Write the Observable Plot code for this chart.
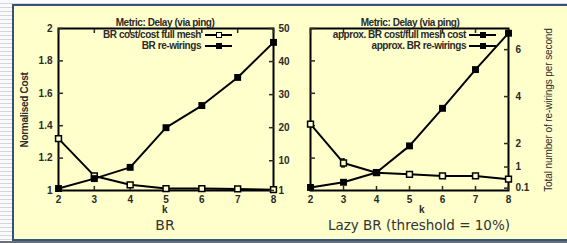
<!DOCTYPE html>
<html><head><meta charset="utf-8">
<script src="https://cdn.jsdelivr.net/npm/d3@7"></script>
<script src="https://cdn.jsdelivr.net/npm/@observablehq/plot@0.6"></script>
<style>
html,body{margin:0;padding:0;width:567px;height:243px;overflow:hidden;}
body{position:relative;background:repeating-linear-gradient(to bottom,#fbfbfb 0,#fbfbfb 3px,#d4d6da 3px,#d4d6da 4px);font-family:"Liberation Sans",Arial,sans-serif;}
#frame{position:absolute;left:12px;top:4px;width:580px;height:237px;background:#ffffcc;border:2px solid #34527f;box-sizing:border-box;}
#under{position:absolute;left:0;top:241px;width:567px;height:2px;background:#6a6f78;}
#plots svg{position:absolute;left:0;top:0;}
.t{position:absolute;white-space:nowrap;font-size:10px;font-weight:bold;color:#2a2a2a;letter-spacing:-0.45px;line-height:10px;}
.cap{position:absolute;white-space:nowrap;font-family:"DejaVu Sans",Verdana,sans-serif;font-size:14px;color:#333;line-height:14px;transform:translateX(-50%);}
.ln{position:absolute;height:2px;background:#000;}
.sq{position:absolute;width:6px;height:6px;box-sizing:border-box;}
</style></head>
<body>
<div id="frame"></div>
<div id="under"></div>
<div id="plots"></div>
<div id="texts"></div>
<script>
// ---- data ----
const ks = [2, 3, 4, 5, 6, 7, 8];
const brCost = [1.32, 1.09, 1.035, 1.012, 1.012, 1.01, 1.005];
const brRewirings = [1.6, 4.6, 8, 20, 26.7, 35.2, 45.8];
const lazyCost = [1.41, 1.17, 1.11, 1.10, 1.09, 1.09, 1.07];
const lazyCostErr = [0, 0.025, 0, 0, 0, 0, 0];
const lazyRewirings = [0.13, 0.35, 0.77, 1.9, 3.5, 5.15, 6.7];
const costTicks = [1, 1.2, 1.4, 1.6, 1.8, 2];
const brRewTicks = [1, 10, 20, 30, 40, 50];
const lazyRewTicks = [0.1, 1, 2, 4, 6];
const titles = ["Metric: Delay (via ping)", "Metric: Delay (via ping)"];
const legendLeft = ["BR cost/cost full mesh", "BR re-wirings"];
const legendRight = ["approx. BR cost/full mesh cost", "approx. BR re-wirings"];
const captions = ["BR", "Lazy BR (threshold = 10%)"];

const rows = (vals, err) => ks.map((k, i) => ({k, v: vals[i], e: err ? err[i] : 0}));

const FONT = "Liberation Sans, Arial, sans-serif";
const YEL = "#ffffcc";
function mk(ml, mr, ydomain, marks) {
  return Plot.plot({
    width: 567, height: 243,
    marginLeft: ml, marginRight: mr, marginTop: 28, marginBottom: 53,
    x: {type: "linear", domain: [2, 8], axis: null},
    y: {type: "linear", domain: ydomain, axis: null},
    style: {background: "transparent", overflow: "visible", fontFamily: FONT, fontSize: "10px", fontWeight: "bold", color: "#2a2a2a"},
    marks
  });
}
const lineOpts = {x: "k", y: "v", stroke: "#000", strokeWidth: 2};
const openSq = {x: "k", y: "v", symbol: "square", r: 3.3, fill: YEL, stroke: "#000", strokeWidth: 1.5};
const fillSq = {x: "k", y: "v", symbol: "square", r: 3.9, fill: "#000"};
const fmt = d => String(d);
const xAxes = () => [
  Plot.axisX({anchor: "bottom", ticks: ks, tickSize: -4, tickPadding: 9, tickFormat: fmt, label: null, strokeWidth: 1.5}),
  Plot.axisX({anchor: "top", ticks: ks, tickSize: -4, tickFormat: () => "", label: null, strokeWidth: 1.5})
];

const host = document.getElementById("plots");
// Left panel: cost (left axis)
host.appendChild(mk(58, 294, [1, 2], [
  Plot.frame({stroke: "#000", strokeWidth: 2}),
  ...xAxes(),
  Plot.axisY({anchor: "left", ticks: costTicks, tickSize: -5, tickPadding: 11, tickFormat: fmt, label: null, strokeWidth: 1.5}),
  Plot.line(rows(brCost), lineOpts),
  Plot.dot(rows(brCost), openSq)
]));
// Left panel: rewirings (right axis)
host.appendChild(mk(58, 294, [1, 50], [
  Plot.axisY({anchor: "right", ticks: brRewTicks, tickSize: -5, tickPadding: 10, tickFormat: fmt, label: null, strokeWidth: 1.5}),
  Plot.line(rows(brRewirings), lineOpts),
  Plot.dot(rows(brRewirings), fillSq)
]));
// Right panel: cost (left axis, unlabeled)
const errRows = rows(lazyCost, lazyCostErr).filter(d => d.e > 0);
host.appendChild(mk(310, 59, [1, 2], [
  Plot.frame({stroke: "#000", strokeWidth: 2}),
  ...xAxes(),
  Plot.axisY({anchor: "left", ticks: costTicks, tickSize: -5, tickFormat: () => "", label: null, strokeWidth: 1.5}),
  Plot.ruleX(errRows, {x: "k", y1: d => d.v - d.e, y2: d => d.v + d.e, stroke: "#000", strokeWidth: 1.2}),
  Plot.ruleY(errRows, {y: d => d.v - d.e, x1: d => d.k - 0.06, x2: d => d.k + 0.06, stroke: "#000", strokeWidth: 1.2}),
  Plot.ruleY(errRows, {y: d => d.v + d.e, x1: d => d.k - 0.06, x2: d => d.k + 0.06, stroke: "#000", strokeWidth: 1.2}),
  Plot.line(rows(lazyCost), lineOpts),
  Plot.dot(rows(lazyCost), openSq)
]));
// Right panel: rewirings (right axis)
host.appendChild(mk(310, 59, [0, 6.9], [
  Plot.axisY({anchor: "right", ticks: lazyRewTicks, tickSize: -5, tickPadding: 12, tickFormat: fmt, label: null, strokeWidth: 1.5}),
  Plot.line(rows(lazyRewirings), lineOpts),
  Plot.dot(rows(lazyRewirings), fillSq)
]));

// ---- texts ----
const T = document.getElementById("texts");
function txt(cls, s, style) {
  const d = document.createElement("div");
  d.className = cls; d.textContent = s;
  Object.assign(d.style, style);
  T.appendChild(d);
  return d;
}
txt("t", titles[0], {left: "165px", top: "18px", transform: "translateX(-50%)"});
txt("t", titles[1], {left: "410px", top: "18px", transform: "translateX(-50%)"});
function legend(items, right, x1, x2, open) {
  items.forEach((s, i) => {
    const y = 35 + i * 11;
    txt("t", s, {right: (567 - right) + "px", top: (y - 5) + "px", textAlign: "right"});
    const l = document.createElement("div"); l.className = "ln";
    Object.assign(l.style, {left: x1 + "px", width: (x2 - x1) + "px", top: (y - 1) + "px"});
    T.appendChild(l);
    const q = document.createElement("div"); q.className = "sq";
    const mx = (x1 + x2) / 2;
    const isOpen = open[i];
    Object.assign(q.style, {left: (mx - 3) + "px", top: (y - 3) + "px", background: isOpen ? YEL : "#000", border: isOpen ? "1.5px solid #000" : "none"});
    T.appendChild(q);
  });
}
legend(legendLeft, 201, 205, 232, [true, false]);
legend(legendRight, 466, 469, 496, [false, false]);

txt("t", "k", {left: "162px", top: "205px"});
txt("t", "k", {left: "419px", top: "205px"});
txt("t", "Normalised Cost", {left: "25px", top: "110px", transform: "translate(-50%,-50%) rotate(-90deg)", letterSpacing: "-0.3px"});
txt("t", "Total number of re-wirings per second", {left: "549px", top: "110px", transform: "translate(-50%,-50%) rotate(-90deg)", fontWeight: "normal", letterSpacing: "-0.1px"});
txt("cap", captions[0], {left: "165px", top: "218px"});
txt("cap", captions[1], {left: "419px", top: "218px", fontSize: "13.5px"});
</script>
</body></html>
